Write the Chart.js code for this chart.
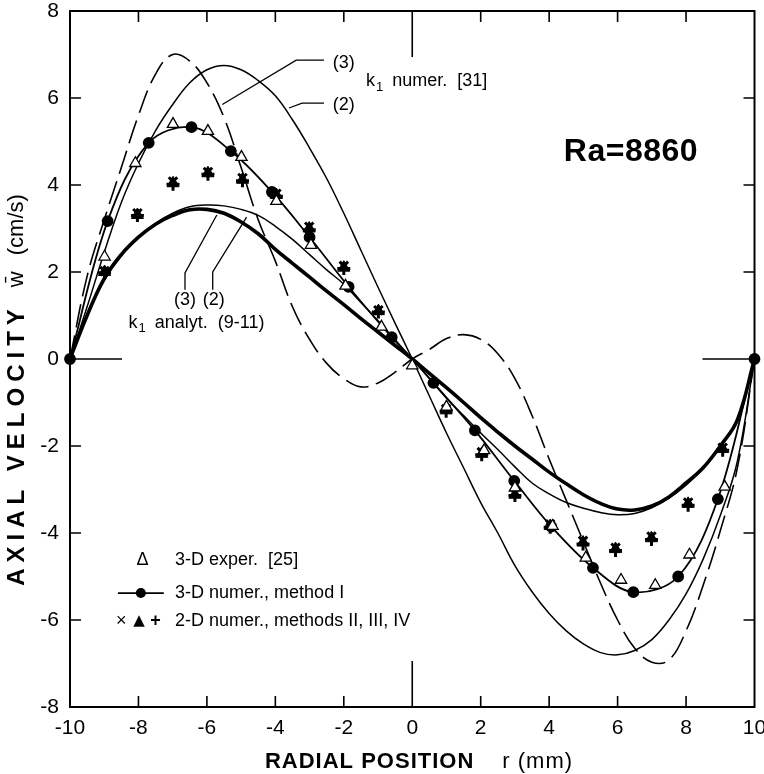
<!DOCTYPE html>
<html>
<head>
<meta charset="utf-8">
<script src="https://cdn.jsdelivr.net/npm/chart.js@4.4.1/dist/chart.umd.min.js"></script>
<style>
  html, body { margin: 0; padding: 0; background: #fff; }
  #wrap { width: 764px; height: 774px; }
</style>
</head>
<body>
<div id="wrap"><canvas id="chart" width="764" height="774"></canvas></div>
<script>
const xTicks = [-10, -8, -6, -4, -2, 0, 2, 4, 6, 8, 10];
const yTicks = [-8, -6, -4, -2, 0, 2, 4, 6, 8];

// radial positions (mm) the smooth curves are read at
const curveX = [-10, -9.5, -9, -8.5, -8, -7.5, -7, -6.5, -6, -5.5, -5, -4.5, -4, -3.5, -3, -2.5, -2, -1.5, -1, -0.5,
    0, 0.5, 1, 1.5, 2, 2.5, 3, 3.5, 4, 4.5, 5, 5.5, 6, 6.5, 7, 7.5, 8, 8.5, 9, 9.5, 10];

// k1 numer. [31], curve (3) - long dashes
const numerDashed = [0, 1.9, 3.2, 4.4, 5.6, 6.55, 7.0, 6.85, 6.35, 5.55, 4.4, 3.2, 2.25, 1.2, 0.45, -0.1, -0.45, -0.64, -0.55, -0.3,
    0, 0.22, 0.47, 0.56, 0.45, 0.12, -0.45, -1.3, -2.3, -3.25, -4.2, -5.15, -6.0, -6.65, -6.97, -6.92, -6.25, -5.2, -3.95, -2.5, 0];

// k1 numer. [31], curve (2) - thin solid
const numerThin = [0, 1.2, 2.45, 3.6, 4.5, 5.25, 5.85, 6.35, 6.65, 6.75, 6.65, 6.4, 6.05, 5.5, 4.85, 4.15, 3.35, 2.5, 1.65, 0.82,
    0, -0.85, -1.7, -2.5, -3.3, -4.0, -4.75, -5.35, -5.85, -6.25, -6.55, -6.75, -6.8, -6.7, -6.45, -6.0, -5.4, -4.6, -3.6, -2.35, 0];

// k1 analyt. (9-11), curve (3) - thick
const analytThick = [0, 1.0, 1.85, 2.4, 2.8, 3.1, 3.3, 3.43, 3.44, 3.35, 3.15, 2.88, 2.52, 2.2, 1.88, 1.56, 1.25, 0.93, 0.62, 0.31,
    0, -0.33, -0.66, -1.0, -1.35, -1.68, -2.0, -2.3, -2.6, -2.87, -3.12, -3.32, -3.45, -3.47, -3.38, -3.17, -2.85, -2.5, -2.0, -1.4, 0];

// k1 analyt. (9-11), curve (2) - thin
const analytThin = [0, 1.0, 1.8, 2.38, 2.8, 3.12, 3.35, 3.5, 3.54, 3.52, 3.44, 3.3, 3.05, 2.75, 2.4, 2.05, 1.72, 1.3, 0.88, 0.44,
    0, -0.45, -0.9, -1.3, -1.7, -2.08, -2.48, -2.85, -3.1, -3.3, -3.43, -3.53, -3.58, -3.55, -3.42, -3.2, -2.9, -2.52, -2.02, -1.42, 0];

// 3-D numer., method I
const method1X = [-10, -8.9, -7.7, -6.45, -5.3, -4.1, -3.0, -1.86, -0.6, 0, 0.62, 1.83, 2.98, 4.06, 5.28, 6.46, 7.77, 8.93, 10];
const method1Y = [0, 3.17, 4.97, 5.33, 4.78, 3.84, 2.8, 1.66, 0.5, 0, -0.55, -1.64, -2.8, -3.85, -4.8, -5.36, -5.0, -3.22, 0];

// 3-D exper. [25]
const experX = [-8.99, -8.09, -6.99, -5.97, -4.99, -3.97, -2.96, -1.95, -0.9, 0, 1.0, 2.1, 3.0, 4.1, 5.07, 6.1, 7.1, 8.1, 9.13];
const experY = [2.35, 4.5, 5.4, 5.24, 4.64, 3.63, 2.62, 1.68, 0.74, -0.15, -1.1, -2.1, -2.96, -3.84, -4.57, -5.08, -5.2, -4.5, -2.94];

// 2-D numer., methods II, III, IV
const twoDX = [-8.99, -8.03, -6.99, -5.97, -4.96, -3.97, -3.01, -2.0, -0.99, 0.99, 2.03, 3.0, 4.03, 4.99, 5.94, 6.99, 8.06, 9.07];
const methodII = [2.02, 3.35, 4.08, 4.3, 4.16, 3.8, 3.04, 2.14, 1.12, -1.15, -2.14, -3.08, -3.8, -4.18, -4.34, -4.08, -3.3, -2.04];
const methodIII = [2.0, 3.31, 4.04, 4.27, 4.12, 3.77, 3.0, 2.1, 1.1, -1.18, -2.18, -3.12, -3.84, -4.22, -4.37, -4.12, -3.33, -2.07];
const methodIV = [1.98, 3.3, 4.02, 4.25, 4.1, 3.74, 2.97, 2.08, 1.08, -1.2, -2.2, -3.14, -3.87, -4.25, -4.4, -4.15, -3.36, -2.1];

const FONT = '"Liberation Sans", Arial, sans-serif';

const xy = (xs, ys) => xs.map((x, i) => ({ x: x, y: ys[i] }));

function curve(ys, extra) {
    return Object.assign({
        data: xy(curveX, ys),
        showLine: true,
        pointRadius: 0,
        borderColor: '#000',
        backgroundColor: '#000',
        tension: 0.4,
        fill: false
    }, extra);
}

// frame, inward ticks, annotations, legend and axis titles
const overlay = {
    id: 'overlay',
    beforeDatasetsDraw(chart) {
        const { ctx, chartArea: a, scales: { x, y } } = chart;
        ctx.save();
        ctx.strokeStyle = '#000';
        ctx.lineWidth = 2;
        ctx.strokeRect(a.left, a.top, a.right - a.left, a.bottom - a.top);
        ctx.lineWidth = 1.6;
        ctx.beginPath();
        xTicks.slice(1, -1).forEach(v => {
            const px = x.getPixelForValue(v);
            const len = v === 0 ? 46 : 11;
            ctx.moveTo(px, a.bottom); ctx.lineTo(px, a.bottom - len);
            ctx.moveTo(px, a.top); ctx.lineTo(px, a.top + len);
        });
        yTicks.slice(1, -1).forEach(v => {
            const py = y.getPixelForValue(v);
            const len = v === 0 ? 52 : 11;
            ctx.moveTo(a.left, py); ctx.lineTo(a.left + len, py);
            ctx.moveTo(a.right, py); ctx.lineTo(a.right - len, py);
        });
        ctx.stroke();
        ctx.restore();
    },
    afterDraw(chart) {
        const { ctx, scales: { x, y } } = chart;
        const P = (vx, vy) => [x.getPixelForValue(vx), y.getPixelForValue(vy)];
        const poly = pts => {
            ctx.beginPath();
            pts.forEach((p, i) => {
                const q = P(p[0], p[1]);
                if (i === 0) ctx.moveTo(q[0], q[1]); else ctx.lineTo(q[0], q[1]);
            });
            ctx.stroke();
        };
        ctx.save();
        ctx.fillStyle = '#000';
        ctx.strokeStyle = '#000';
        ctx.lineWidth = 1.3;
        ctx.textBaseline = 'middle';

        // k1 numer. [31] labels
        ctx.font = '18px ' + FONT;
        ctx.textAlign = 'center';
        ctx.fillText('(3)', ...P(-2.0, 6.8));
        ctx.fillText('(2)', ...P(-2.0, 5.84));
        poly([[-2.58, 6.87], [-3.39, 6.87], [-5.55, 5.85]]);
        poly([[-2.58, 5.88], [-3.22, 5.88], [-3.6, 5.77]]);
        ctx.textAlign = 'left';
        let [kx, ky] = P(-1.35, 6.38);
        ctx.fillText('k', kx, ky);
        kx += ctx.measureText('k').width + 1;
        ctx.font = '13px ' + FONT;
        ctx.fillText('1', kx, ky + 6);
        kx += ctx.measureText('1').width + 9;
        ctx.font = '18px ' + FONT;
        ctx.fillText('numer.  [31]', kx, ky);

        // k1 analyt. labels
        ctx.textAlign = 'center';
        ctx.fillText('(3)', ...P(-6.64, 1.36));
        ctx.fillText('(2)', ...P(-5.8, 1.36));
        poly([[-6.64, 1.59], [-6.64, 1.98], [-5.71, 3.31]]);
        poly([[-5.83, 1.59], [-5.83, 2.0], [-4.84, 3.26]]);
        ctx.textAlign = 'left';
        [kx, ky] = P(-8.29, 0.83);
        ctx.fillText('k', kx, ky);
        kx += ctx.measureText('k').width + 1;
        ctx.font = '13px ' + FONT;
        ctx.fillText('1', kx, ky + 6);
        kx += ctx.measureText('1').width + 9;
        ctx.font = '18px ' + FONT;
        ctx.fillText('analyt.  (9-11)', kx, ky);

        // Rayleigh number
        ctx.font = 'bold 32px ' + FONT;
        ctx.letterSpacing = '0.5px';
        ctx.fillText('Ra=8860', ...P(4.43, 4.76));
        ctx.letterSpacing = '0px';

        // legend
        ctx.font = '18px ' + FONT;
        ctx.textAlign = 'center';
        ctx.fillText('\u0394', ...P(-7.88, -4.62));
        ctx.textAlign = 'left';
        ctx.fillText('3-D exper.  [25]', ...P(-6.93, -4.62));
        ctx.lineWidth = 1.8;
        poly([[-8.6, -5.38], [-7.26, -5.38]]);
        const [cx, cy] = P(-7.93, -5.38);
        ctx.beginPath();
        ctx.arc(cx, cy, 5, 0, Math.PI * 2);
        ctx.fill();
        ctx.fillText('3-D numer., method I', ...P(-6.93, -5.38));
        ctx.textAlign = 'center';
        ctx.fillText('\u00d7', ...P(-8.5, -6.02));
        ctx.font = '15px "DejaVu Sans", sans-serif';
        ctx.fillText('\u25b2', ...P(-7.98, -6.02));
        ctx.font = 'bold 18px ' + FONT;
        ctx.fillText('+', ...P(-7.5, -6.02));
        ctx.font = '18px ' + FONT;
        ctx.textAlign = 'left';
        ctx.fillText('2-D numer., methods II, III, IV', ...P(-6.93, -6.02));

        // x axis title
        ctx.textAlign = 'left';
        ctx.font = 'bold 22px ' + FONT;
        ctx.letterSpacing = '1px';
        const xBold = 'RADIAL POSITION';
        const xReg = 'r (mm)';
        const wb = ctx.measureText(xBold).width;
        ctx.font = '22px ' + FONT;
        const wr = ctx.measureText(xReg).width;
        const gap = 28;
        let tx = 419 - (wb + gap + wr) / 2;
        ctx.font = 'bold 22px ' + FONT;
        ctx.fillText(xBold, tx, 762);
        ctx.font = '22px ' + FONT;
        ctx.fillText(xReg, tx + wb + gap, 762);

        // y axis title
        ctx.translate(17, 390);
        ctx.rotate(-Math.PI / 2);
        ctx.font = 'bold 24px ' + FONT;
        ctx.letterSpacing = '6px';
        const yBold = 'AXIAL VELOCITY';
        const yb = ctx.measureText(yBold).width;
        ctx.letterSpacing = '0px';
        ctx.font = '22px ' + FONT;
        const yw = ctx.measureText('w\u0304').width;
        const yu = ctx.measureText('(cm/s)').width;
        let ty = -(yb + 16 + yw + 16 + yu) / 2;
        ctx.font = 'bold 24px ' + FONT;
        ctx.letterSpacing = '6px';
        ctx.fillText(yBold, ty, 0);
        ctx.letterSpacing = '0px';
        ctx.font = '22px ' + FONT;
        ctx.fillText('w\u0304', ty + yb + 16, 0);
        ctx.fillText('(cm/s)', ty + yb + 16 + yw + 16, 0);
        ctx.restore();
    }
};

new Chart(document.getElementById('chart'), {
    type: 'scatter',
    data: {
        datasets: [
            { label: '3-D exper. [25]', data: xy(experX, experY), pointStyle: 'triangle', pointRadius: 6.5,
              pointBackgroundColor: '#fff', pointBorderColor: '#000', pointBorderWidth: 1.3, clip: false, order: 1 },
            { label: '2-D numer., method II', data: xy(twoDX, methodII), pointStyle: 'crossRot', pointRadius: 6,
              pointBorderColor: '#000', pointBorderWidth: 3, clip: false, order: 2 },
            { label: '2-D numer., method III', data: xy(twoDX, methodIII), pointStyle: 'triangle', pointRadius: 7,
              pointBackgroundColor: '#000', pointBorderColor: '#000', pointBorderWidth: 1, clip: false, order: 2 },
            { label: '2-D numer., method IV', data: xy(twoDX, methodIV), pointStyle: 'cross', pointRadius: 6.5,
              pointBorderColor: '#000', pointBorderWidth: 3, clip: false, order: 2 },
            { label: '3-D numer., method I', data: xy(method1X, method1Y), showLine: true, tension: 0.35,
              borderColor: '#000', borderWidth: 1.8, pointRadius: method1X.map(v => v === 0 ? 0 : 5),
              pointBackgroundColor: '#000', pointBorderColor: '#000', clip: false, order: 3 },
            curve(numerDashed, { label: 'k1 numer. (3)', borderWidth: 1.6, borderDash: [24, 8], order: 4 }),
            curve(numerThin, { label: 'k1 numer. (2)', borderWidth: 1.5, order: 4 }),
            curve(analytThick, { label: 'k1 analyt. (3)', borderWidth: 3.6, order: 4 }),
            curve(analytThin, { label: 'k1 analyt. (2)', borderWidth: 1.5, order: 4 })
        ]
    },
    options: {
        responsive: false,
        animation: false,
        events: [],
        layout: { padding: { top: 11, right: 4, left: 0, bottom: 0 } },
        plugins: { legend: { display: false }, tooltip: { enabled: false } },
        scales: {
            x: {
                type: 'linear', min: -10, max: 10,
                afterBuildTicks: s => { s.ticks = xTicks.map(v => ({ value: v })); },
                afterFit: s => { s.height = 67; s.paddingLeft = 0; s.paddingRight = 0; },
                grid: { display: false, drawTicks: false },
                border: { display: false },
                ticks: { color: '#000', font: { family: FONT, size: 21 }, padding: 9, maxRotation: 0, autoSkip: false }
            },
            y: {
                type: 'linear', min: -8, max: 8,
                afterBuildTicks: s => { s.ticks = yTicks.map(v => ({ value: v })); },
                afterFit: s => { s.width = 70; s.paddingTop = 0; s.paddingBottom = 0; },
                grid: { display: false, drawTicks: false },
                border: { display: false },
                ticks: { color: '#000', font: { family: FONT, size: 21 }, padding: 11, autoSkip: false }
            }
        }
    },
    plugins: [overlay]
});
</script>
</body>
</html>
